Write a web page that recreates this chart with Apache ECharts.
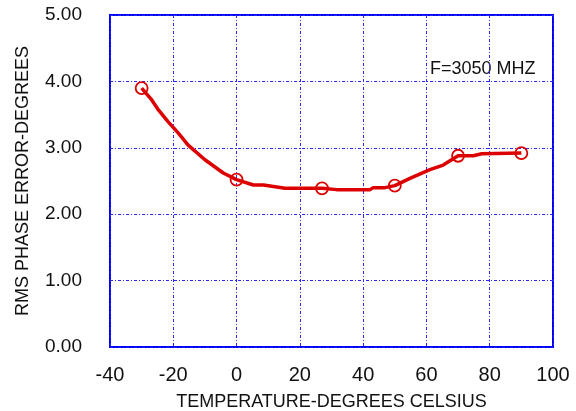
<!DOCTYPE html>
<html>
<head>
<meta charset="utf-8">
<script src="https://cdn.jsdelivr.net/npm/echarts@6/dist/echarts.min.js"></script>
<style>
  html, body { margin: 0; padding: 0; background: #fff; }
  #chart { width: 576px; height: 411px; }
</style>
</head>
<body>
<div id="chart"></div>
<script>
(function() {
  // traced curve (temperature C, rms phase error deg)
  var curveTemp = [-30, -26.8, -24.7, -21.6, -18.4, -15.3, -10, -4.2, 0, 5.3, 8.5, 15.3, 27, 31.6, 42.2, 43.2, 46.9, 50, 54.8, 61.1, 65.3, 70, 74.8, 77.5, 90];
  var curveErr  = [3.90, 3.72, 3.57, 3.39, 3.22, 3.04, 2.82, 2.62, 2.52, 2.44, 2.44, 2.39, 2.39, 2.37, 2.37, 2.40, 2.40, 2.43, 2.54, 2.67, 2.74, 2.88, 2.88, 2.91, 2.92];
  // measured points
  var markTemp = [-30, 0, 27, 50, 70, 90];
  var markErr  = [3.90, 2.52, 2.39, 2.43, 2.88, 2.92];
  var note = 'F=3050 MHZ';

  var red = '#dd0000';
  var blue = '#2a2aff';
  var ink = '#111';
  var font = '"Liberation Sans", Arial, sans-serif';

  function pairs(a, b) {
    return a.map(function(v, i) { return [v, b[i]]; });
  }

  var chart = echarts.init(document.getElementById('chart'), null, { renderer: 'canvas' });
  chart.setOption({
    animation: false,
    grid: {
      left: 110, right: 23, top: 15, bottom: 64,
      outerBoundsMode: 'none',
      show: true, borderColor: '#0000ee', borderWidth: 2
    },
    xAxis: {
      type: 'value', min: -40, max: 100, interval: 20,
      name: 'TEMPERATURE-DEGREES CELSIUS',
      nameLocation: 'middle', nameGap: 46,
      nameTextStyle: { color: ink, fontSize: 18, fontFamily: font },
      axisLine: { show: false },
      axisTick: { show: false },
      axisLabel: { color: ink, fontSize: 20, fontFamily: font, margin: 18 },
      splitLine: { lineStyle: { color: blue, width: 1, type: [3, 2, 1, 2] } }
    },
    yAxis: {
      type: 'value', min: 0, max: 5, interval: 1,
      name: 'RMS PHASE ERROR-DEGREES',
      nameLocation: 'middle', nameGap: 78,
      nameTextStyle: { color: ink, fontSize: 18, fontFamily: font },
      axisLine: { show: false },
      axisTick: { show: false },
      axisLabel: {
        color: ink, fontSize: 19, fontFamily: font, margin: 28,
        formatter: function(v) { return v.toFixed(2); }
      },
      splitLine: { lineStyle: { color: blue, width: 1, type: [3, 2, 1, 2] } }
    },
    graphic: [{
      type: 'text', left: 430, top: 60,
      style: { text: note, fill: ink, fontSize: 18, fontFamily: font }
    }],
    series: [{
      type: 'line',
      data: pairs(curveTemp, curveErr),
      showSymbol: false,
      lineStyle: { color: red, width: 3.5 },
      z: 3
    }, {
      type: 'scatter',
      data: pairs(markTemp, markErr),
      symbol: 'circle',
      symbolSize: 12,
      itemStyle: { color: 'rgba(0,0,0,0)', borderColor: red, borderWidth: 1.8, opacity: 1 },
      z: 4
    }]
  });
  window.addEventListener('resize', function() { chart.resize(); });
})();
</script>
</body>
</html>
